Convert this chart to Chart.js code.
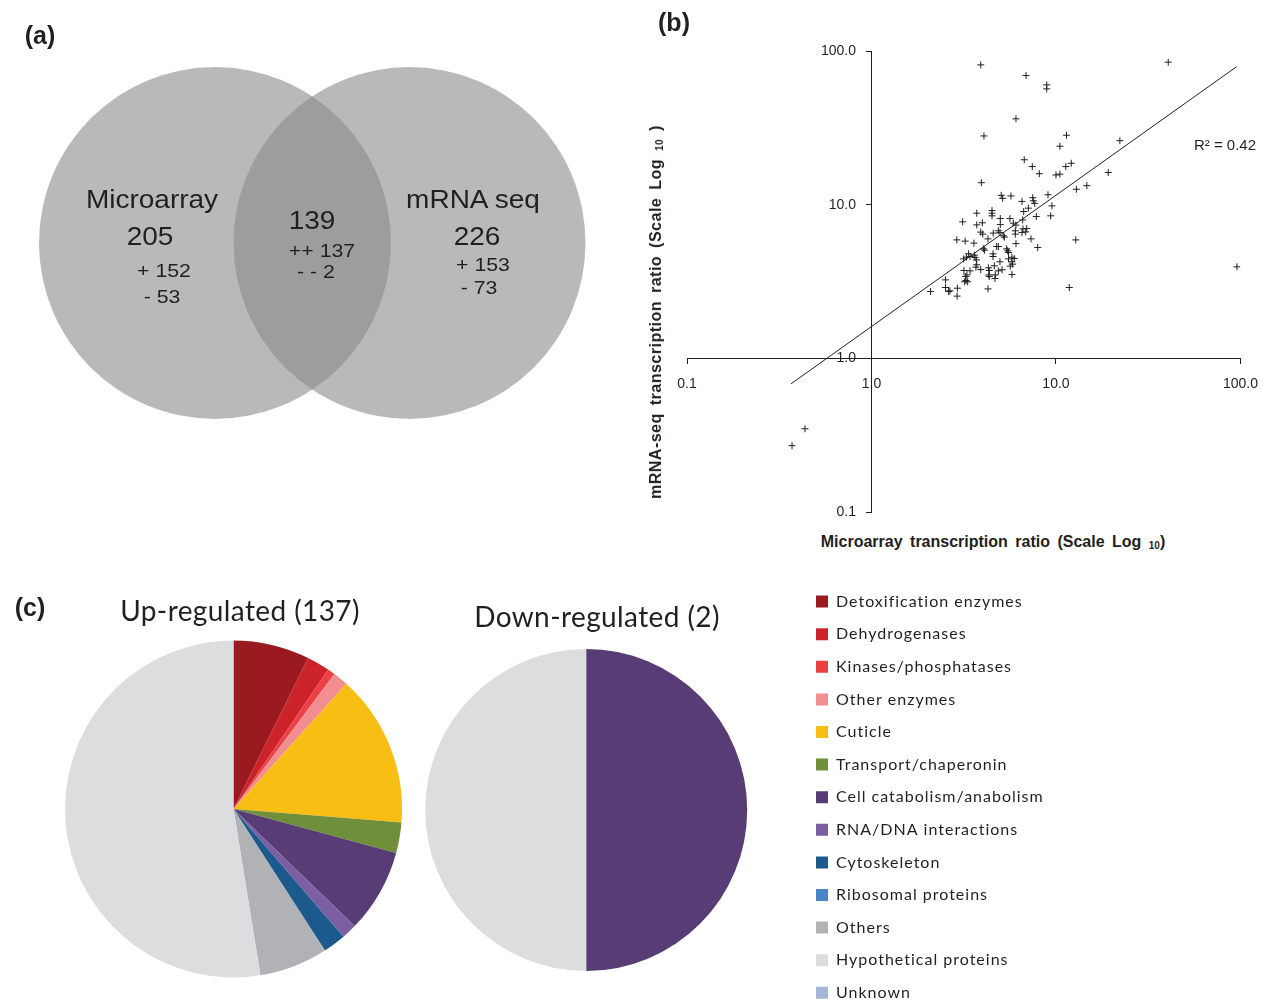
<!DOCTYPE html>
<html>
<head>
<meta charset="utf-8">
<title>Microarray vs mRNA-seq</title>
<script src="https://cdn.jsdelivr.net/npm/chart.js@4.4.1/dist/chart.umd.min.js"></script>
<style>
  html, body { margin: 0; padding: 0; background: #fff; }
  #page { position: relative; width: 1270px; height: 1001px; overflow: hidden;
          font-family: "Liberation Sans", Arial, sans-serif; color: #231f20; }
  #page canvas { position: absolute; }
  .txt { position: absolute; white-space: nowrap; transform: translate(-50%, -50%); }
  .venn { transform: translate(-50%, -50%) scaleX(1.12); }
  .panel { font-weight: bold; font-size: 25px; }
  .axis-title { font-family: "Liberation Sans Narrow", "Liberation Sans", Arial, sans-serif;
                font-weight: bold; font-size: 16px; word-spacing: 3px; }
  .axis-title sub { font-size: 10px; vertical-align: -2px; }
  .pie-title { font-family: Lato, sans-serif; font-size: 28px; letter-spacing: 0.4px; }
</style>
</head>
<body>
<div id="page">
  <canvas id="venn"></canvas>
  <canvas id="scatter"></canvas>
  <canvas id="pieUp"></canvas>
  <canvas id="pieDown"></canvas>
</div>
<script>
// ---- data ----
const vennSets = ['Microarray', 'mRNA seq'];
const vennTotals = [205, 226];
const vennUp = [152, 153];
const vennDown = [53, 73];
const sharedTotal = 139;
const sharedUp = 137;
const sharedDown = 2;

// fold change
const microarrayRatio = [
  3.91, 40.6, 6.88, 8.91, 8.91, 6.07, 4.07, 11.4, 10.5, 22.2,
  6.73, 7.44, 8.12, 11.3, 12.1, 10.0, 10.5, 19.2, 3.94, 12.9,
  14.7, 5.05, 5.14, 5.70, 6.54, 7.48, 7.53, 7.67, 9.05, 9.51,
  3.72, 4.50, 4.50, 4.50, 6.68, 7.08, 7.82, 9.36, 3.12, 3.72,
  3.99, 4.99, 4.99, 5.63, 5.87, 6.07, 6.60, 3.91, 4.01, 4.57,
  4.87, 4.97, 5.18, 5.25, 6.02, 6.02, 6.62, 6.94, 6.54, 6.85,
  2.90, 3.22, 4.28, 7.32, 12.8, 3.59, 4.04, 4.10, 4.77, 4.87,
  5.40, 5.47, 5.53, 6.07, 7.96, 3.36, 3.42, 3.61, 3.64, 3.70,
  3.16, 3.27, 4.56, 4.56, 5.53, 5.77, 5.94, 5.77, 4.97, 3.17,
  3.42, 3.72, 3.68, 3.91, 4.30, 4.35, 4.63, 5.10, 5.65, 5.82,
  3.29, 3.24, 4.32, 4.35, 4.69, 4.67, 4.87, 5.77, 2.92, 2.66,
  2.62, 2.52, 2.52, 2.91, 2.09, 3.25, 3.32, 3.20, 4.28, 11.8,
  95.7, 0.371, 0.436
];
const mrnaSeqRatio = [
  81.2, 84.6, 69.2, 60.2, 56.7, 36.2, 28.0, 28.3, 24.0, 26.1,
  19.6, 17.7, 15.9, 17.7, 18.6, 15.6, 15.8, 16.2, 13.9, 12.6,
  13.3, 11.5, 11.0, 11.4, 10.5, 11.1, 10.6, 10.2, 11.6, 9.82,
  8.80, 9.16, 8.80, 8.46, 9.02, 9.49, 8.37, 8.46, 7.73, 7.39,
  7.62, 8.12, 7.42, 8.12, 7.58, 7.36, 7.96, 6.63, 6.43, 6.53,
  6.76, 6.58, 6.27, 6.15, 6.76, 6.43, 6.96, 6.99, 6.58, 6.65,
  5.90, 5.79, 5.99, 5.99, 5.90, 5.62, 5.16, 5.06, 5.34, 5.34,
  5.16, 5.01, 4.88, 5.58, 5.26, 4.79, 4.60, 4.69, 4.53, 4.37,
  4.44, 4.55, 4.60, 4.79, 4.44, 4.55, 4.46, 4.25, 4.25, 3.73,
  3.71, 4.06, 3.92, 3.78, 3.88, 3.73, 4.00, 3.77, 3.98, 4.10,
  3.49, 3.41, 3.49, 3.41, 3.49, 3.31, 3.71, 3.51, 2.86, 2.75,
  2.72, 2.89, 3.24, 2.54, 2.72, 3.21, 3.15, 3.15, 2.83, 2.89,
  3.94, 0.270, 0.348
];
// trend line end points
const trendX = [0.366, 95.3];
const trendY = [0.682, 79.1];
const rSquared = 0.42;

const axisTicks = [0.1, 1, 10, 100];
const axisTickLabels = ['0.1', '1.0', '10.0', '100.0'];

const categories = [
  'Detoxification enzymes', 'Dehydrogenases', 'Kinases/phosphatases', 'Other enzymes',
  'Cuticle', 'Transport/chaperonin', 'Cell catabolism/anabolism', 'RNA/DNA interactions',
  'Cytoskeleton', 'Ribosomal proteins', 'Others', 'Hypothetical proteins', 'Unknown'
];
const upCounts   = [10, 3, 1, 2, 20, 4, 11, 2, 3, 0, 9, 72, 0];
const downCounts = [0, 0, 0, 0, 0, 0, 1, 0, 0, 0, 0, 1, 0];

// ---- styles ----
const INK = '#231f20';
const palette = [
  '#9a1a1f', '#cc2229', '#ec4044', '#f28e90', '#f9be14', '#6f8f3a', '#573c75',
  '#7c5ea2', '#1c5a8e', '#4a86c5', '#b1b2b5', '#dcdddf', '#a4b6d8'
];
const vennLayout = { centers: [[215, 243], [409.5, 243]], radius: 176 };

const page = document.getElementById('page');

function place(id, left, top, w, h) {
  const c = document.getElementById(id);
  c.width = w; c.height = h;
  c.style.left = left + 'px'; c.style.top = top + 'px';
  c.style.width = w + 'px'; c.style.height = h + 'px';
  return c;
}

function label(html, x, y, cls, style) {
  const d = document.createElement('div');
  d.className = 'txt ' + (cls || '');
  d.innerHTML = html;
  d.style.left = x + 'px';
  d.style.top = y + 'px';
  if (style) d.style.cssText += style;
  page.appendChild(d);
  return d;
}

const sum = arr => arr.reduce((a, b) => a + b, 0);
const noInteraction = { legend: { display: false }, tooltip: { enabled: false } };

// ---- (a) venn ----
new Chart(place('venn', 0, 0, 620, 430), {
  type: 'bubble',
  data: {
    datasets: [{
      data: vennLayout.centers.map(c => ({ x: c[0], y: c[1], r: vennLayout.radius })),
      backgroundColor: 'rgba(138,138,138,0.6)',
      borderWidth: 0,
      clip: false
    }]
  },
  options: {
    responsive: false, animation: false, events: [],
    layout: { padding: 0, autoPadding: false },
    scales: {
      x: { type: 'linear', min: 0, max: 620, display: false },
      y: { type: 'linear', min: 0, max: 430, reverse: true, display: false }
    },
    plugins: noInteraction
  }
});

label('(a)', 40, 35, 'panel');
label(vennSets[0], 152, 199, 'venn', 'font-size:25px');
label(vennTotals[0], 150, 236, 'venn', 'font-size:25px');
label('+ ' + vennUp[0], 164, 271, 'venn', 'font-size:19px');
label('- ' + vennDown[0], 162, 297, 'venn', 'font-size:19px');
label(sharedTotal, 312, 220, 'venn', 'font-size:25px');
label('++ ' + sharedUp, 322, 251, 'venn', 'font-size:19px');
label('- - ' + sharedDown, 316, 272, 'venn', 'font-size:19px');
label(vennSets[1], 473, 199, 'venn', 'font-size:25px');
label(vennTotals[1], 477, 236, 'venn', 'font-size:25px');
label('+ ' + vennUp[1], 483, 265, 'venn', 'font-size:19px');
label('- ' + vennDown[1], 479, 288, 'venn', 'font-size:19px');

// ---- (b) scatter, log-log ----
// axes cross at (1, 1); y labels sit right-aligned on the axis, so pad them with spaces
const logAxis = (crossAt, pad, suffix) => ({
  type: 'logarithmic', min: 0.1, max: 100, position: crossAt,
  afterBuildTicks: s => { s.ticks = axisTicks.map(v => ({ value: v })); },
  ticks: {
    callback: (v, i) => axisTickLabels[i] + suffix,
    color: INK, font: { family: 'Liberation Sans', size: 14 },
    padding: pad, maxRotation: 0, autoSkip: false
  },
  grid: { drawOnChartArea: false, tickLength: 5, color: INK },
  border: { color: INK, width: 1 }
});

new Chart(place('scatter', 660, 30, 610, 500), {
  type: 'scatter',
  data: {
    datasets: [{
      data: microarrayRatio.map((x, i) => ({ x: x, y: mrnaSeqRatio[i] })),
      pointStyle: 'cross', pointRadius: 3.5, borderColor: INK, borderWidth: 1
    }, {
      data: trendX.map((x, i) => ({ x: x, y: trendY[i] })),
      showLine: true, pointRadius: 0, borderColor: INK, borderWidth: 1
    }]
  },
  options: {
    responsive: false, animation: false, events: [],
    layout: { padding: { left: 27, right: 29.5, top: 21, bottom: 18 } },
    scales: {
      x: logAxis({ y: 1 }, 12, ''),
      y: logAxis({ x: 1 }, 8, '    ')
    },
    plugins: noInteraction
  }
});

label('(b)', 674, 22, 'panel');
label('R² = ' + rSquared.toFixed(2), 1225, 144, '', 'font-size:15px');
label('Microarray transcription ratio (Scale Log <sub>10</sub>)', 993, 542, 'axis-title');
label('mRNA-seq transcription ratio (Scale Log <sub>10</sub> )', 656, 312, 'axis-title',
      'transform:translate(-50%,-50%) rotate(-90deg); letter-spacing:0.5px');

// ---- (c) pies ----
label('(c)', 30, 607, 'panel');
label('Up-regulated (' + sum(upCounts) + ')', 240, 610, 'pie-title');
label('Down-regulated (' + sum(downCounts) + ')', 597, 616, 'pie-title');

new Chart(place('pieUp', 44, 577, 379, 464), {
  type: 'pie',
  data: { labels: categories, datasets: [{ data: upCounts, backgroundColor: palette, borderWidth: 0 }] },
  options: {
    responsive: false, animation: false, events: [],
    radius: 168.5,
    plugins: noInteraction
  }
});

const spacing = {
  id: 'letterSpacing',
  beforeLayout(chart) { chart.ctx.letterSpacing = '1px'; },
  beforeDraw(chart) { chart.ctx.letterSpacing = '1px'; }
};

const downLeft = 373;
const legendPad = 16.6;
const down = new Chart(place('pieDown', downLeft, 577, 1270 - downLeft, 466), {
  type: 'pie',
  data: { labels: categories, datasets: [{ data: downCounts, backgroundColor: palette, borderWidth: 0 }] },
  options: {
    responsive: false, animation: false, events: [],
    radius: 161,
    layout: { padding: { right: 200 } },
    plugins: {
      tooltip: { enabled: false },
      legend: {
        position: 'right', align: 'start',
        labels: {
          boxWidth: 12, boxHeight: 12, padding: legendPad, color: INK,
          font: { family: 'Lato', size: 16 }
        }
      }
    }
  },
  plugins: [spacing]
});
// put the legend boxes where the reference has them (x = 816)
const shift = (down.legend.left + legendPad) - (816 - downLeft);
down.options.layout.padding.right += shift;
down.update();
</script>
</body>
</html>
